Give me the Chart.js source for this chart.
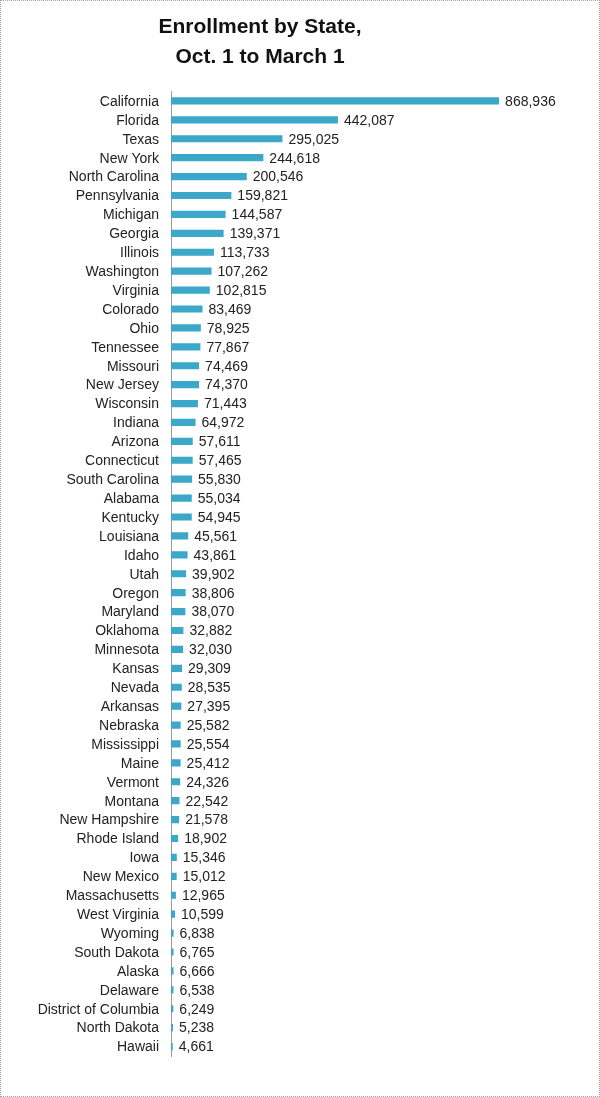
<!DOCTYPE html>
<html>
<head>
<meta charset="utf-8">
<script src="https://cdn.jsdelivr.net/npm/chart.js@4.4.1/dist/chart.umd.min.js"></script>
<style>
  html, body { margin: 0; padding: 0; background: #fff; }
  #wrap { width: 600px; height: 1097px; box-sizing: border-box; border: 1px dotted #a0a0a0; }
</style>
</head>
<body>
<div id="wrap"><canvas id="enrollChart" width="598" height="1095"></canvas></div>
<script>
// Enrollment by state, Oct. 1 to March 1
const states = [
  'California', 'Florida', 'Texas', 'New York', 'North Carolina', 'Pennsylvania',
  'Michigan', 'Georgia', 'Illinois', 'Washington', 'Virginia', 'Colorado', 'Ohio',
  'Tennessee', 'Missouri', 'New Jersey', 'Wisconsin', 'Indiana', 'Arizona',
  'Connecticut', 'South Carolina', 'Alabama', 'Kentucky', 'Louisiana', 'Idaho',
  'Utah', 'Oregon', 'Maryland', 'Oklahoma', 'Minnesota', 'Kansas', 'Nevada',
  'Arkansas', 'Nebraska', 'Mississippi', 'Maine', 'Vermont', 'Montana',
  'New Hampshire', 'Rhode Island', 'Iowa', 'New Mexico', 'Massachusetts',
  'West Virginia', 'Wyoming', 'South Dakota', 'Alaska', 'Delaware',
  'District of Columbia', 'North Dakota', 'Hawaii'
];
const enrollment = [
  868936, 442087, 295025, 244618, 200546, 159821,
  144587, 139371, 113733, 107262, 102815, 83469, 78925,
  77867, 74469, 74370, 71443, 64972, 57611,
  57465, 55830, 55034, 54945, 45561, 43861,
  39902, 38806, 38070, 32882, 32030, 29309, 28535,
  27395, 25582, 25554, 25412, 24326, 22542,
  21578, 18902, 15346, 15012, 12965,
  10599, 6838, 6765, 6666, 6538,
  6249, 5238, 4661
];
const titleLines = ['Enrollment by State,', 'Oct. 1 to March 1'];

const FONT = '"Liberation Sans", Arial, sans-serif';

// two-line heading, centred a bit left of the page middle like the original
const heading = {
  id: 'heading',
  afterDraw(chart) {
    const ctx = chart.ctx;
    ctx.save();
    ctx.font = 'bold 21px ' + FONT;
    ctx.fillStyle = '#111';
    ctx.textAlign = 'center';
    ctx.textBaseline = 'alphabetic';
    ctx.fillText(titleLines[0], 259, 32);
    ctx.fillText(titleLines[1], 259, 62);
    ctx.restore();
  }
};

// value labels at the end of each bar
const valueLabels = {
  id: 'valueLabels',
  afterDatasetsDraw(chart) {
    const ctx = chart.ctx;
    const meta = chart.getDatasetMeta(0);
    ctx.save();
    ctx.font = '14px ' + FONT;
    ctx.fillStyle = '#222';
    ctx.textAlign = 'left';
    ctx.textBaseline = 'middle';
    meta.data.forEach(function(bar, i) {
      ctx.fillText(enrollment[i].toLocaleString('en-US'), bar.x + 6, bar.y + 1);
    });
    ctx.restore();
  }
};

new Chart(document.getElementById('enrollChart').getContext('2d'), {
  type: 'bar',
  data: {
    labels: states,
    datasets: [{
      data: enrollment,
      backgroundColor: '#3ba7c9',
      borderWidth: 0,
      barPercentage: 0.38,
      categoryPercentage: 1.0
    }]
  },
  options: {
    indexAxis: 'y',
    responsive: false,
    animation: false,
    layout: {
      padding: { left: 0, right: 10, top: 90.5, bottom: 40 }
    },
    scales: {
      x: {
        display: false,
        min: 0,
        max: 1107000
      },
      y: {
        afterFit: function(scale) { scale.width = 170; },
        grid: { display: false, drawTicks: false },
        border: { display: true, color: '#9a9a9a', width: 1 },
        ticks: {
          padding: 12,
          labelOffset: 1,
          color: '#222',
          autoSkip: false,
          font: { family: FONT, size: 14 }
        }
      }
    },
    plugins: {
      legend: { display: false },
      tooltip: { enabled: false },
      title: { display: false }
    }
  },
  plugins: [valueLabels, heading]
});
</script>
</body>
</html>
